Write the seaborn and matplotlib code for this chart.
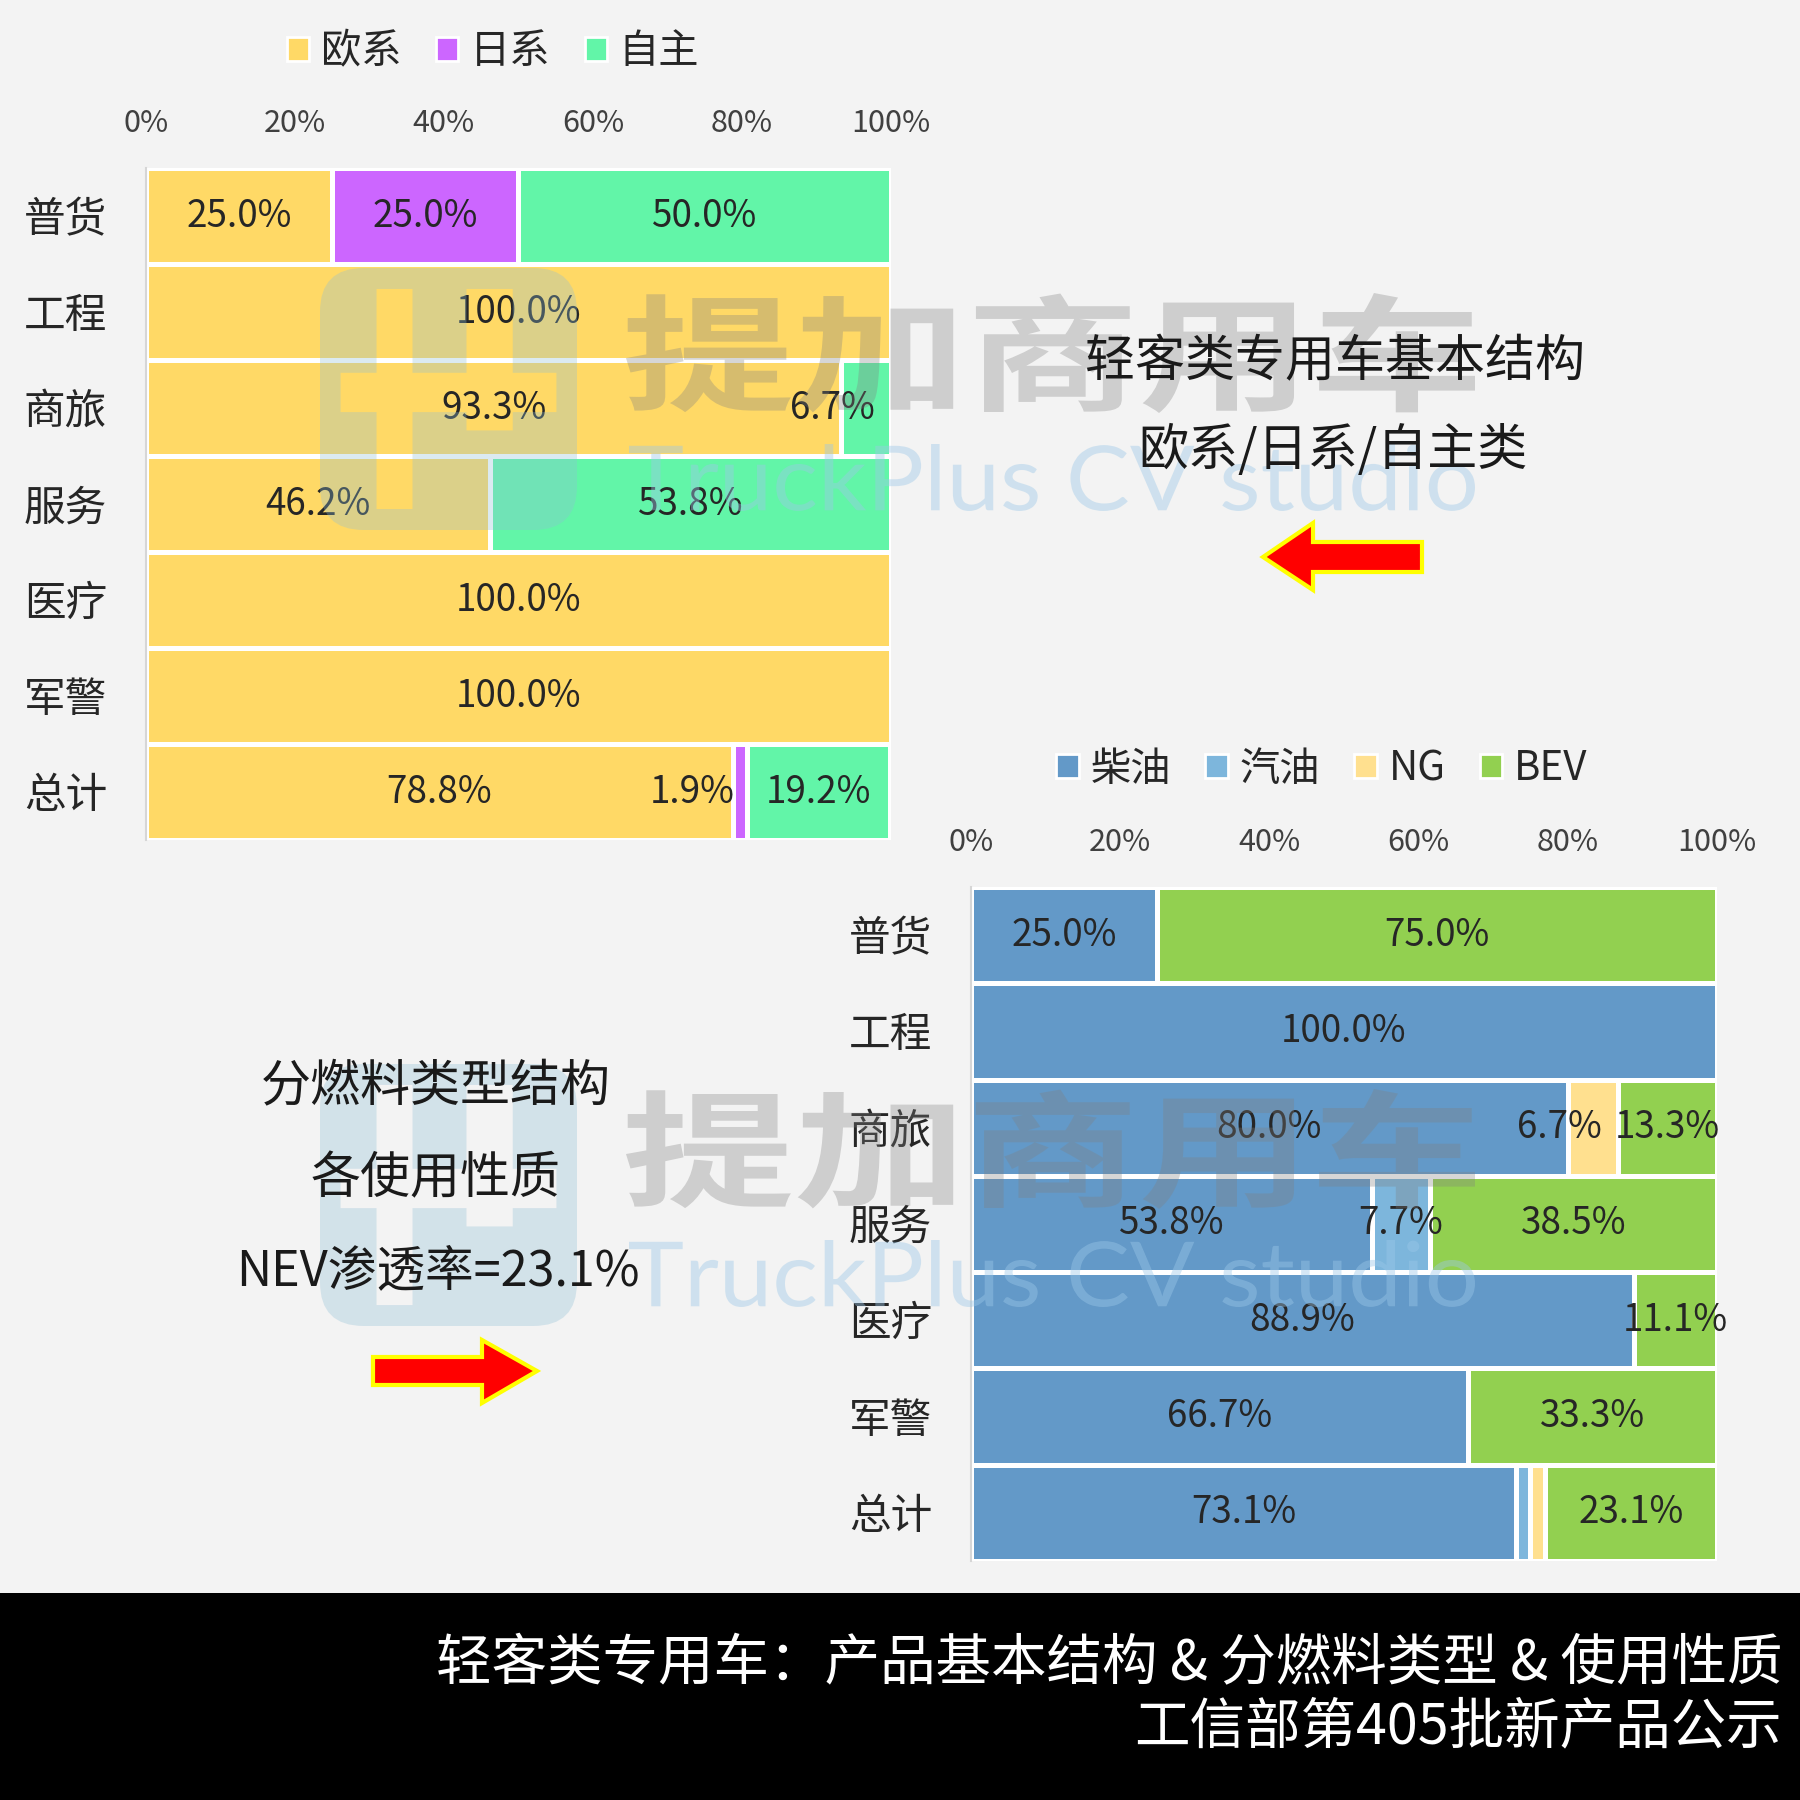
import numpy as np
import pandas as pd
import seaborn as sns
import matplotlib.pyplot as plt
from matplotlib.patches import FancyBboxPatch, Polygon, Rectangle, PathPatch, Patch
from matplotlib.path import Path
from matplotlib.textpath import TextPath
from matplotlib.font_manager import FontProperties
from matplotlib.transforms import Affine2D

# usage categories (rows, top to bottom)
usages = ["普货", "工程", "商旅", "服务", "医疗", "军警", "总计"]

# chart 1: brand origin share (%)
brand_names = ["欧系", "日系", "自主"]
brand_eu = [25.0, 100.0, 93.3, 46.2, 100.0, 100.0, 78.8]
brand_jp = [25.0, 0.0, 0.0, 0.0, 0.0, 0.0, 1.9]
brand_cn = [50.0, 0.0, 6.7, 53.8, 0.0, 0.0, 19.2]
brand_colors = ["#FFD966", "#CC66FF", "#62F5A8"]

# chart 2: fuel type share (%)
fuel_names = ["柴油", "汽油", "NG", "BEV"]
fuel_diesel = [25.0, 100.0, 80.0, 53.8, 88.9, 66.7, 73.1]
fuel_petrol = [0.0, 0.0, 0.0, 7.7, 0.0, 0.0, 1.9]
fuel_ng = [0.0, 0.0, 6.7, 0.0, 0.0, 0.0, 1.9]
fuel_bev = [75.0, 0.0, 13.3, 38.5, 11.1, 33.3, 23.1]
fuel_colors = ["#6399C8", "#7DB6DC", "#FFE08F", "#92D050"]

pct_ticks = [0, 20, 40, 60, 80, 100]

BG = "#F3F3F3"
CJK = ["Noto Sans CJK SC", "DejaVu Sans"]

sns.set_style("white")
plt.rcParams["font.family"] = CJK


def stacked_bar(ax, series, names, colors, shifts, hidden):
    df = pd.DataFrame(dict(zip(names, series)), index=usages)
    cum = df.cumsum(axis=1)
    # draw cumulative bars from the longest down so each segment shows
    for name, color in reversed(list(zip(names, colors))):
        sns.barplot(x=cum[name].values, y=usages, order=usages, orient="h",
                    color=color, saturation=1, width=1.0,
                    edgecolor="white", linewidth=3.6, ax=ax)
    for i, row in enumerate(usages):
        for name in names:
            v = df.loc[row, name]
            if v <= 0 or (row, name) in hidden:
                continue
            x = cum.loc[row, name] - v / 2 + shifts.get((row, name), 0)
            ax.text(x, i, f"{v:.1f}%", ha="center", va="center",
                    fontsize=26.5, color="#262626")

    ax.set_xlim(0, 100)
    ax.set_ylim(len(usages) - 0.5, -0.5)
    ax.xaxis.tick_top()
    ax.set_xticks(pct_ticks)
    ax.set_xticklabels([f"{t}%" for t in pct_ticks])
    ax.set_xlabel("")
    ax.set_ylabel("")
    ax.tick_params(axis="x", length=0, pad=21, labelsize=22, labelcolor="#404040")
    ax.tick_params(axis="y", which="major", length=0, pad=28, labelsize=30,
                   labelcolor="#262626")
    ax.set_yticks(np.arange(-0.5, len(usages), 1.0), minor=True)
    ax.tick_params(axis="y", which="minor", length=8, width=1.5, color="#d6d6d6")
    for s in ["top", "right", "bottom"]:
        ax.spines[s].set_visible(False)
    ax.spines["left"].set_color("#d6d6d6")
    ax.spines["left"].set_linewidth(1.5)
    ax.set_facecolor("none")


def legend(fig, names, colors, center):
    handles = [Patch(facecolor=c, edgecolor="white", linewidth=2) for c in colors]
    fig.legend(handles, names, loc="center", bbox_to_anchor=center, ncol=len(names),
               frameon=False, fontsize=29, handlelength=0.55, handleheight=0.55,
               handletextpad=0.3, columnspacing=0.85, labelcolor="#262626")


def signed_area(p):
    return 0.5 * np.sum(p[:-1, 0] * p[1:, 1] - p[1:, 0] * p[:-1, 1])


def logo(ax, x0, y0, w, h):
    outer = FancyBboxPatch((x0, y0), w, h,
                           boxstyle=f"round,pad=0,rounding_size={0.17 * w}").get_path()
    outer_poly = outer.to_polygons()[0]
    a = signed_area(outer_poly)
    holes = [(0.22, 0.08, 0.36, 0.92), (0.57, 0.08, 0.75, 0.62),
             (0.08, 0.40, 0.22, 0.55), (0.36, 0.40, 0.57, 0.55), (0.75, 0.40, 0.92, 0.55)]
    paths = [Path(outer_poly, closed=True)]
    for rx0, ry0, rx1, ry1 in holes:
        pts = np.array([[x0 + rx0 * w, y0 + ry0 * h], [x0 + rx1 * w, y0 + ry0 * h],
                        [x0 + rx1 * w, y0 + ry1 * h], [x0 + rx0 * w, y0 + ry1 * h],
                        [x0 + rx0 * w, y0 + ry0 * h]])
        if np.sign(signed_area(pts)) == np.sign(a):
            pts = pts[::-1]
        paths.append(Path(pts, closed=True))
    ax.add_patch(PathPatch(Path.make_compound_path(*paths), facecolor="#8fbfd6",
                           edgecolor="none", alpha=0.32))


def fitted_text(ax, s, box, prop, color, alpha):
    # text stretched into a pixel box (x0, y_top, x1, y_bottom), y axis points down
    tp = TextPath((0, 0), s, size=1, prop=prop)
    ext = tp.get_extents()
    x0, yt, x1, yb = box
    tr = (Affine2D().translate(-ext.x0, -ext.y0)
          .scale((x1 - x0) / ext.width, -(yb - yt) / ext.height)
          .translate(x0, yb))
    ax.add_patch(PathPatch(tr.transform_path(tp), facecolor=color,
                           edgecolor="none", alpha=alpha))


fig = plt.figure(figsize=(18, 18), dpi=100, facecolor=BG)

ax1 = fig.add_axes([0.0811, 0.5333, 0.4139, 0.3733])
stacked_bar(ax1, [brand_eu, brand_jp, brand_cn], brand_names, brand_colors,
            shifts={("商旅", "自主"): -4.5, ("总计", "日系"): -6.5}, hidden=set())
legend(fig, brand_names, brand_colors, (493 / 1800, 1 - 52 / 1800))

ax2 = fig.add_axes([0.5394, 0.1328, 0.4144, 0.3744])
stacked_bar(ax2, [fuel_diesel, fuel_petrol, fuel_ng, fuel_bev], fuel_names, fuel_colors,
            shifts={("商旅", "NG"): -4.4},
            hidden={("总计", "汽油"), ("总计", "NG")})
legend(fig, fuel_names, fuel_colors, (1322 / 1800, 1 - 769 / 1800))

# overlay in pixel coordinates for notes, arrows, watermark and footer
ov = fig.add_axes([0, 0, 1, 1], zorder=10)
ov.set_xlim(0, 1800)
ov.set_ylim(1800, 0)
ov.axis("off")
ov.patch.set_alpha(0)

note_kw = dict(ha="center", va="center", fontsize=36, color="#1a1a1a")
ov.text(1335, 362, "轻客类专用车基本结构", **note_kw)
ov.text(1333, 451, "欧系/日系/自主类", **note_kw)
ov.text(436, 1087, "分燃料类型结构", **note_kw)
ov.text(436, 1179, "各使用性质", **note_kw)
ov.text(438, 1271, "NEV渗透率=23.1%", ha="center", va="center", fontsize=35,
        color="#1a1a1a")

arrow_kw = dict(closed=True, facecolor="#FF0000", edgecolor="#FFFF00", linewidth=3,
                joinstyle="miter")
ov.add_patch(Polygon([(1422, 542), (1313, 542), (1313, 523), (1263, 557),
                      (1313, 590), (1313, 572), (1422, 572)], **arrow_kw))
ov.add_patch(Polygon([(373, 1357), (482, 1357), (482, 1340), (537, 1371),
                      (482, 1403), (482, 1385), (373, 1385)], **arrow_kw))

# watermark (two copies)
bold_cjk = FontProperties(family="Noto Sans CJK SC", weight="bold")
latin = FontProperties(family="Lato", weight="normal")
for dy in [0, 796]:
    logo(ov, 320, 268 + dy, 257, 262)
    fitted_text(ov, "提加商用车", (626, 293 + dy, 1475, 413 + dy), bold_cjk, "#808080", 0.32)
    fitted_text(ov, "TruckPlus CV studio", (629, 444 + dy, 1475, 511 + dy),
                latin, "#9cc8e8", 0.42)

# footer band
ov.add_patch(Rectangle((0, 1593), 1800, 207, facecolor="black", edgecolor="none"))
ov.text(1782, 1665, "轻客类专用车：产品基本结构 & 分燃料类型 & 使用性质",
        ha="right", va="center", fontsize=40, color="white")
ov.text(1782, 1728, "工信部第405批新产品公示",
        ha="right", va="center", fontsize=40, color="white")

fig.savefig("out.png", dpi=100, facecolor=BG)
